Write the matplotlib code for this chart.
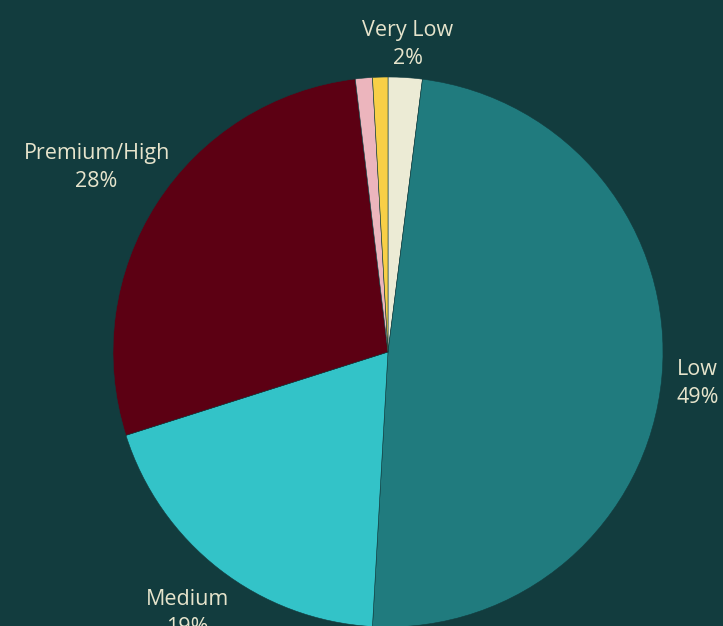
import numpy as np
import matplotlib.pyplot as plt

# ---------------------------------------------------------------
# Chart data (shares in percent, clockwise from 12 o'clock).
# ---------------------------------------------------------------
categories = ['Very Low', 'Low', 'Medium', 'Premium/High', 'Other A', 'Other B']
shares = [2.0, 48.9, 19.2, 28.0, 1.0, 0.9]
show_label = [True, True, True, True, False, False]

colors = ['#ecebd5', '#207b7e', '#33c3c8', '#5c0013', '#ecb5bd', '#f8cf47']
bg = '#123c3e'
text_color = '#e6e4cc'

# label distance per slice (in radii), hand-tuned to the reference
label_dist = [1.13, 1.13, 1.19, 1.26, 1.1, 1.1]

plt.rcParams['font.family'] = ['Open Sans', 'DejaVu Sans']

W, H = 723, 626
fig = plt.figure(figsize=(W / 100, H / 100), dpi=100)
fig.patch.set_facecolor(bg)
ax = fig.add_axes([0, 0, 1, 1])
ax.set_facecolor(bg)

cx, cy, R = 388, H - 352, 275
wedges, _ = ax.pie(shares, colors=colors, startangle=90, counterclock=False,
                   radius=R, center=(cx, cy),
                   wedgeprops=dict(linewidth=0.4, edgecolor=bg))

total = sum(shares)
cum = 0
for name, val, show, d in zip(categories, shares, show_label, label_dist):
    mid = (cum + val / 2) / total * 2 * np.pi
    cum += val
    if not show:
        continue
    x = cx + np.sin(mid) * R * d
    y = cy + np.cos(mid) * R * d - 3
    ax.text(x, y, f'{name}\n{val:.0f}%', ha='center', va='center',
            color=text_color, fontsize=15.5, linespacing=1.45)

ax.set_xlim(0, W)
ax.set_ylim(0, H)
ax.set_aspect('equal')
ax.axis('off')

fig.savefig('out.png', dpi=100, facecolor=bg)
